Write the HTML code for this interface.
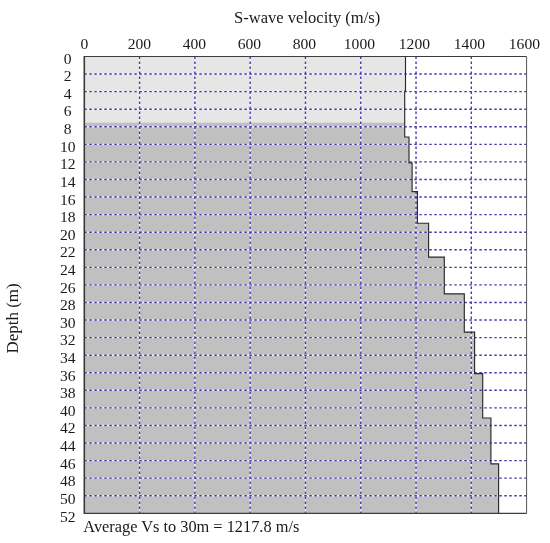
<!DOCTYPE html>
<html><head><meta charset="utf-8"><title>S-wave velocity profile</title>
<style>
html,body{margin:0;padding:0;background:#fff;}
body{width:550px;height:543px;overflow:hidden;}
svg{display:block;}
text{font-family:"Liberation Serif","DejaVu Serif",serif;font-size:16px;fill:#1a1a1a;}
text.t{font-size:15.6px;}
</style></head><body>
<svg width="550" height="543" viewBox="0 0 550 543">
<rect x="0" y="0" width="550" height="543" fill="#ffffff"/>
<polygon points="84.3,56.5 405.5,56.5 405.5,91.0 404.7,91.0 404.7,122.5 84.3,122.5" fill="#e6e6e6"/>
<polygon points="84.3,122.5 404.7,122.5 404.7,137.0 409.0,137.0 409.0,162.8 412.1,162.8 412.1,191.6 417.4,191.6 417.4,223.2 428.6,223.2 428.6,257.1 444.3,257.1 444.3,293.9 464.3,293.9 464.3,332.1 474.6,332.1 474.6,373.6 482.7,373.6 482.7,418.0 490.9,418.0 490.9,463.9 498.6,463.9 498.6,513.3 84.3,513.3" fill="#c0c0c0"/>
<g stroke="#ffffff" stroke-opacity="0.75" stroke-width="1.4" fill="none">
<line x1="139.59" y1="56.5" x2="139.59" y2="513.3"/>
<line x1="194.88" y1="56.5" x2="194.88" y2="513.3"/>
<line x1="250.16" y1="56.5" x2="250.16" y2="513.3"/>
<line x1="305.45" y1="56.5" x2="305.45" y2="513.3"/>
<line x1="360.74" y1="56.5" x2="360.74" y2="513.3"/>
<line x1="416.03" y1="56.5" x2="416.03" y2="513.3"/>
<line x1="471.31" y1="56.5" x2="471.31" y2="513.3"/>
<line x1="84.3" y1="74.07" x2="526.6" y2="74.07"/>
<line x1="84.3" y1="91.64" x2="526.6" y2="91.64"/>
<line x1="84.3" y1="109.21" x2="526.6" y2="109.21"/>
<line x1="84.3" y1="126.78" x2="526.6" y2="126.78"/>
<line x1="84.3" y1="144.35" x2="526.6" y2="144.35"/>
<line x1="84.3" y1="161.92" x2="526.6" y2="161.92"/>
<line x1="84.3" y1="179.48" x2="526.6" y2="179.48"/>
<line x1="84.3" y1="197.05" x2="526.6" y2="197.05"/>
<line x1="84.3" y1="214.62" x2="526.6" y2="214.62"/>
<line x1="84.3" y1="232.19" x2="526.6" y2="232.19"/>
<line x1="84.3" y1="249.76" x2="526.6" y2="249.76"/>
<line x1="84.3" y1="267.33" x2="526.6" y2="267.33"/>
<line x1="84.3" y1="284.90" x2="526.6" y2="284.90"/>
<line x1="84.3" y1="302.47" x2="526.6" y2="302.47"/>
<line x1="84.3" y1="320.04" x2="526.6" y2="320.04"/>
<line x1="84.3" y1="337.61" x2="526.6" y2="337.61"/>
<line x1="84.3" y1="355.18" x2="526.6" y2="355.18"/>
<line x1="84.3" y1="372.75" x2="526.6" y2="372.75"/>
<line x1="84.3" y1="390.32" x2="526.6" y2="390.32"/>
<line x1="84.3" y1="407.88" x2="526.6" y2="407.88"/>
<line x1="84.3" y1="425.45" x2="526.6" y2="425.45"/>
<line x1="84.3" y1="443.02" x2="526.6" y2="443.02"/>
<line x1="84.3" y1="460.59" x2="526.6" y2="460.59"/>
<line x1="84.3" y1="478.16" x2="526.6" y2="478.16"/>
<line x1="84.3" y1="495.73" x2="526.6" y2="495.73"/>
</g>
<g stroke="#453cab" stroke-width="1.4" stroke-dasharray="2.5 2.5" fill="none">
<line x1="139.59" y1="56.5" x2="139.59" y2="513.3"/>
<line x1="194.88" y1="56.5" x2="194.88" y2="513.3"/>
<line x1="250.16" y1="56.5" x2="250.16" y2="513.3"/>
<line x1="305.45" y1="56.5" x2="305.45" y2="513.3"/>
<line x1="360.74" y1="56.5" x2="360.74" y2="513.3"/>
<line x1="416.03" y1="56.5" x2="416.03" y2="513.3"/>
<line x1="471.31" y1="56.5" x2="471.31" y2="513.3"/>
<line x1="84.3" y1="74.07" x2="526.6" y2="74.07"/>
<line x1="84.3" y1="91.64" x2="526.6" y2="91.64"/>
<line x1="84.3" y1="109.21" x2="526.6" y2="109.21"/>
<line x1="84.3" y1="126.78" x2="526.6" y2="126.78"/>
<line x1="84.3" y1="144.35" x2="526.6" y2="144.35"/>
<line x1="84.3" y1="161.92" x2="526.6" y2="161.92"/>
<line x1="84.3" y1="179.48" x2="526.6" y2="179.48"/>
<line x1="84.3" y1="197.05" x2="526.6" y2="197.05"/>
<line x1="84.3" y1="214.62" x2="526.6" y2="214.62"/>
<line x1="84.3" y1="232.19" x2="526.6" y2="232.19"/>
<line x1="84.3" y1="249.76" x2="526.6" y2="249.76"/>
<line x1="84.3" y1="267.33" x2="526.6" y2="267.33"/>
<line x1="84.3" y1="284.90" x2="526.6" y2="284.90"/>
<line x1="84.3" y1="302.47" x2="526.6" y2="302.47"/>
<line x1="84.3" y1="320.04" x2="526.6" y2="320.04"/>
<line x1="84.3" y1="337.61" x2="526.6" y2="337.61"/>
<line x1="84.3" y1="355.18" x2="526.6" y2="355.18"/>
<line x1="84.3" y1="372.75" x2="526.6" y2="372.75"/>
<line x1="84.3" y1="390.32" x2="526.6" y2="390.32"/>
<line x1="84.3" y1="407.88" x2="526.6" y2="407.88"/>
<line x1="84.3" y1="425.45" x2="526.6" y2="425.45"/>
<line x1="84.3" y1="443.02" x2="526.6" y2="443.02"/>
<line x1="84.3" y1="460.59" x2="526.6" y2="460.59"/>
<line x1="84.3" y1="478.16" x2="526.6" y2="478.16"/>
<line x1="84.3" y1="495.73" x2="526.6" y2="495.73"/>
</g>
<polyline points="405.5,56.5 405.5,91.0 404.7,91.0 404.7,137.0 409.0,137.0 409.0,162.8 412.1,162.8 412.1,191.6 417.4,191.6 417.4,223.2 428.6,223.2 428.6,257.1 444.3,257.1 444.3,293.9 464.3,293.9 464.3,332.1 474.6,332.1 474.6,373.6 482.7,373.6 482.7,418.0 490.9,418.0 490.9,463.9 498.6,463.9 498.6,513.3" fill="none" stroke="#2a2a2a" stroke-width="1.15" stroke-linejoin="miter"/>
<line x1="84.3" y1="55.9" x2="84.3" y2="513.9" stroke="#3a3a3a" stroke-width="1.6"/>
<line x1="84.3" y1="56.5" x2="526.6" y2="56.5" stroke="#3c3c3c" stroke-width="1.2"/>
<line x1="84.3" y1="513.3" x2="526.6" y2="513.3" stroke="#3c3c3c" stroke-width="1.2"/>
<line x1="526.6" y1="56.5" x2="526.6" y2="513.3" stroke="#555555" stroke-width="1"/>
<text x="234" y="22.9" textLength="146.3" lengthAdjust="spacingAndGlyphs">S-wave velocity (m/s)</text>
<text class="t" x="84.4" y="49.4" text-anchor="middle">0</text>
<text class="t" x="139.4" y="49.4" text-anchor="middle">200</text>
<text class="t" x="194.4" y="49.4" text-anchor="middle">400</text>
<text class="t" x="249.4" y="49.4" text-anchor="middle">600</text>
<text class="t" x="304.4" y="49.4" text-anchor="middle">800</text>
<text class="t" x="359.4" y="49.4" text-anchor="middle">1000</text>
<text class="t" x="414.4" y="49.4" text-anchor="middle">1200</text>
<text class="t" x="469.4" y="49.4" text-anchor="middle">1400</text>
<text class="t" x="524.4" y="49.4" text-anchor="middle">1600</text>
<text class="t" x="67.7" y="63.6" text-anchor="middle">0</text>
<text class="t" x="67.7" y="81.2" text-anchor="middle">2</text>
<text class="t" x="67.7" y="98.8" text-anchor="middle">4</text>
<text class="t" x="67.7" y="116.4" text-anchor="middle">6</text>
<text class="t" x="67.7" y="134.0" text-anchor="middle">8</text>
<text class="t" x="67.7" y="151.7" text-anchor="middle">10</text>
<text class="t" x="67.7" y="169.3" text-anchor="middle">12</text>
<text class="t" x="67.7" y="186.9" text-anchor="middle">14</text>
<text class="t" x="67.7" y="204.5" text-anchor="middle">16</text>
<text class="t" x="67.7" y="222.1" text-anchor="middle">18</text>
<text class="t" x="67.7" y="239.7" text-anchor="middle">20</text>
<text class="t" x="67.7" y="257.3" text-anchor="middle">22</text>
<text class="t" x="67.7" y="274.9" text-anchor="middle">24</text>
<text class="t" x="67.7" y="292.5" text-anchor="middle">26</text>
<text class="t" x="67.7" y="310.1" text-anchor="middle">28</text>
<text class="t" x="67.7" y="327.8" text-anchor="middle">30</text>
<text class="t" x="67.7" y="345.4" text-anchor="middle">32</text>
<text class="t" x="67.7" y="363.0" text-anchor="middle">34</text>
<text class="t" x="67.7" y="380.6" text-anchor="middle">36</text>
<text class="t" x="67.7" y="398.2" text-anchor="middle">38</text>
<text class="t" x="67.7" y="415.8" text-anchor="middle">40</text>
<text class="t" x="67.7" y="433.4" text-anchor="middle">42</text>
<text class="t" x="67.7" y="451.0" text-anchor="middle">44</text>
<text class="t" x="67.7" y="468.6" text-anchor="middle">46</text>
<text class="t" x="67.7" y="486.2" text-anchor="middle">48</text>
<text class="t" x="67.7" y="503.9" text-anchor="middle">50</text>
<text class="t" x="67.7" y="521.5" text-anchor="middle">52</text>
<text transform="translate(18.4,353.4) rotate(-90)" textLength="70" lengthAdjust="spacingAndGlyphs">Depth (m)</text>
<text x="83.3" y="532" textLength="216" lengthAdjust="spacingAndGlyphs">Average Vs to 30m = 1217.8 m/s</text>
</svg>
</body></html>
